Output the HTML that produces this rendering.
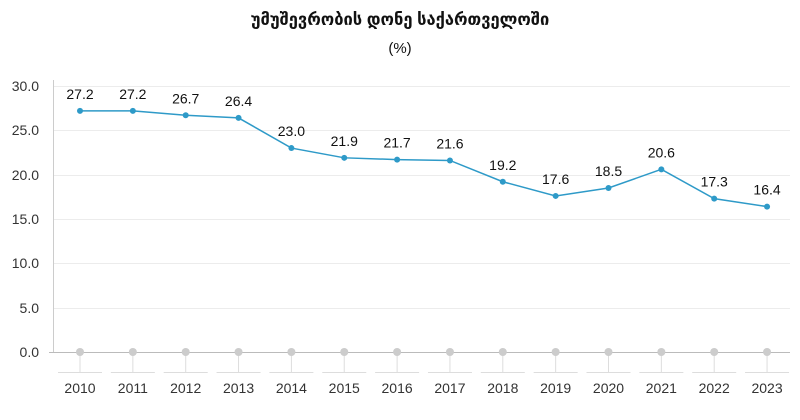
<!DOCTYPE html>
<html><head><meta charset="utf-8"><style>
body{margin:0;background:#fff;}
svg text{font-family:"Liberation Sans","DejaVu Sans",sans-serif;}
</style></head><body>
<svg width="800" height="415" viewBox="0 0 800 415" xmlns="http://www.w3.org/2000/svg">
<text x="400" y="25" text-anchor="middle" font-size="16.5" font-weight="bold" fill="#111" font-family="DejaVu Sans, sans-serif">უმუშევრობის დონე საქართველოში</text>
<text x="400" y="53" text-anchor="middle" font-size="15" fill="#111">(%)</text>
<g stroke="#ececec" stroke-width="1">
<line x1="53" x2="790" y1="86.5" y2="86.5"/><line x1="53" x2="790" y1="130.5" y2="130.5"/><line x1="53" x2="790" y1="175.5" y2="175.5"/><line x1="53" x2="790" y1="219.5" y2="219.5"/><line x1="53" x2="790" y1="263.5" y2="263.5"/><line x1="53" x2="790" y1="308.5" y2="308.5"/>
</g>
<line x1="53.5" y1="80" x2="53.5" y2="352" stroke="#ccc"/>
<line x1="49" y1="352.5" x2="790" y2="352.5" stroke="#bbb"/>
<g font-size="14" fill="#333" text-anchor="end">
<text x="39" y="91">30.0</text><text x="39" y="135">25.0</text><text x="39" y="180">20.0</text><text x="39" y="224">15.0</text><text x="39" y="268">10.0</text><text x="39" y="313">5.0</text><text x="39" y="357">0.0</text>
</g>
<polyline fill="none" stroke="#2e9ac8" stroke-width="1.5" points=""/>
<script>
var d=[27.2,27.2,26.7,26.4,23.0,21.9,21.7,21.6,19.2,17.6,18.5,20.6,17.3,16.4];
var ns="http://www.w3.org/2000/svg",s=document.querySelector('svg'),pts=[];
function el(t,a,txt){var e=document.createElementNS(ns,t);for(var k in a)e.setAttribute(k,a[k]);if(txt)e.textContent=txt;s.appendChild(e);return e;}
d.forEach(function(v,i){var x=80+i*52.85,y=352-v*8.867;pts.push(x+','+y);
el('line',{x1:x,x2:x,y1:352,y2:372,stroke:'#ddd'});
el('line',{x1:x-22,x2:x+22,y1:372.5,y2:372.5,stroke:'#ddd'});
el('circle',{cx:x,cy:352,r:4,fill:'#ccc'});
el('text',{x:x,y:393,'text-anchor':'middle','font-size':'14',fill:'#333'},String(2010+i));
});
document.querySelector('polyline').setAttribute('points',pts.join(' '));
d.forEach(function(v,i){var x=80+i*52.85,y=352-v*8.867;
el('circle',{cx:x,cy:y,r:3,fill:'#2e9ac8'});
el('text',{x:x,y:y-12,'text-anchor':'middle','font-size':'14',fill:'#111'},v.toFixed(1));});
</script>
</svg>
</body></html>
